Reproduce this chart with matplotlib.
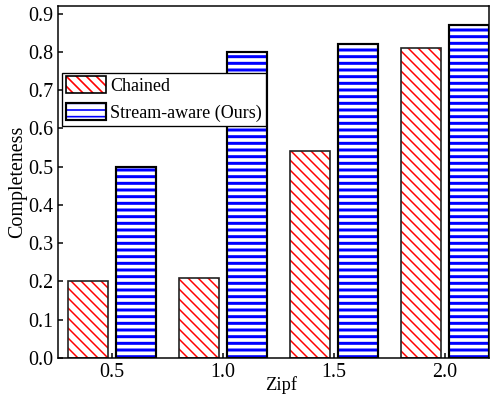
import matplotlib
matplotlib.use("Agg")
import matplotlib.pyplot as plt
from matplotlib.patches import Patch
from matplotlib.legend_handler import HandlerTuple
import numpy as np

# data
zipf = [0.5, 1.0, 1.5, 2.0]
zipf_labels = ["0.5", "1.0", "1.5", "2.0"]
chained = [0.20, 0.21, 0.54, 0.81]
stream_aware = [0.50, 0.80, 0.82, 0.87]

DPI = 120
plt.rcParams["font.family"] = ["Liberation Serif", "DejaVu Serif"]
plt.rcParams["font.size"] = 12
plt.rcParams["axes.linewidth"] = 0.9

fig = plt.figure(figsize=(498 / DPI, 398 / DPI), dpi=DPI)
ax = fig.add_axes([0.1165, 0.1005, 0.8655, 0.8845])

x = np.array(zipf)
w = 0.18
off = 0.108

# hatch colour follows edge colour, so draw the hatch and the outline separately
with plt.rc_context({"hatch.linewidth": 0.9}):
    ax.bar(x - off, chained, w, facecolor="white", edgecolor="red",
           hatch="\\\\\\\\", linewidth=0)
ax.bar(x - off, chained, w, fill=False, edgecolor="#222222", linewidth=1.0)

with plt.rc_context({"hatch.linewidth": 1.8}):
    ax.bar(x + off, stream_aware, w, facecolor="white", edgecolor="blue",
           hatch="---", linewidth=0)
ax.bar(x + off, stream_aware, w, fill=False, edgecolor="black", linewidth=1.3)

ax.set_xlim(0.257, 2.198)
ax.set_ylim(0, 0.92)
ax.set_xticks(zipf)
ax.set_xticklabels(zipf_labels)
ax.set_yticks(np.arange(0, 0.91, 0.1))
ax.set_yticklabels([f"{v:.1f}" for v in np.arange(0, 0.91, 0.1)])
ax.tick_params(direction="in", length=3, width=0.9, pad=3, labelsize=12)
ax.set_xlabel("Zipf", fontsize=11)
ax.set_ylabel("Completeness", fontsize=12)
ax.xaxis.set_label_coords(0.517, -0.052)
ax.yaxis.set_label_coords(-0.071, 0.5)

with plt.rc_context({"hatch.linewidth": 0.9}):
    h1 = (Patch(facecolor="white", edgecolor="red", hatch="\\\\\\\\", linewidth=0),
          Patch(fill=False, edgecolor="black", linewidth=1.0))
with plt.rc_context({"hatch.linewidth": 1.8}):
    h2 = (Patch(facecolor="white", edgecolor="blue", hatch="---", linewidth=0),
          Patch(fill=False, edgecolor="black", linewidth=1.3))

leg = ax.legend([h1, h2], ["Chained", "Stream-aware (Ours)"],
                handler_map={tuple: HandlerTuple(ndivide=1, pad=0)},
                loc="upper left", bbox_to_anchor=(0.01, 0.81), fontsize=10.8,
                fancybox=False, framealpha=1, edgecolor="black",
                handlelength=2.2, handleheight=1.05, handletextpad=0.27,
                borderpad=0.2, labelspacing=0.47, borderaxespad=0)
leg.get_frame().set_linewidth(0.8)

fig.savefig("out.png", dpi=DPI)
